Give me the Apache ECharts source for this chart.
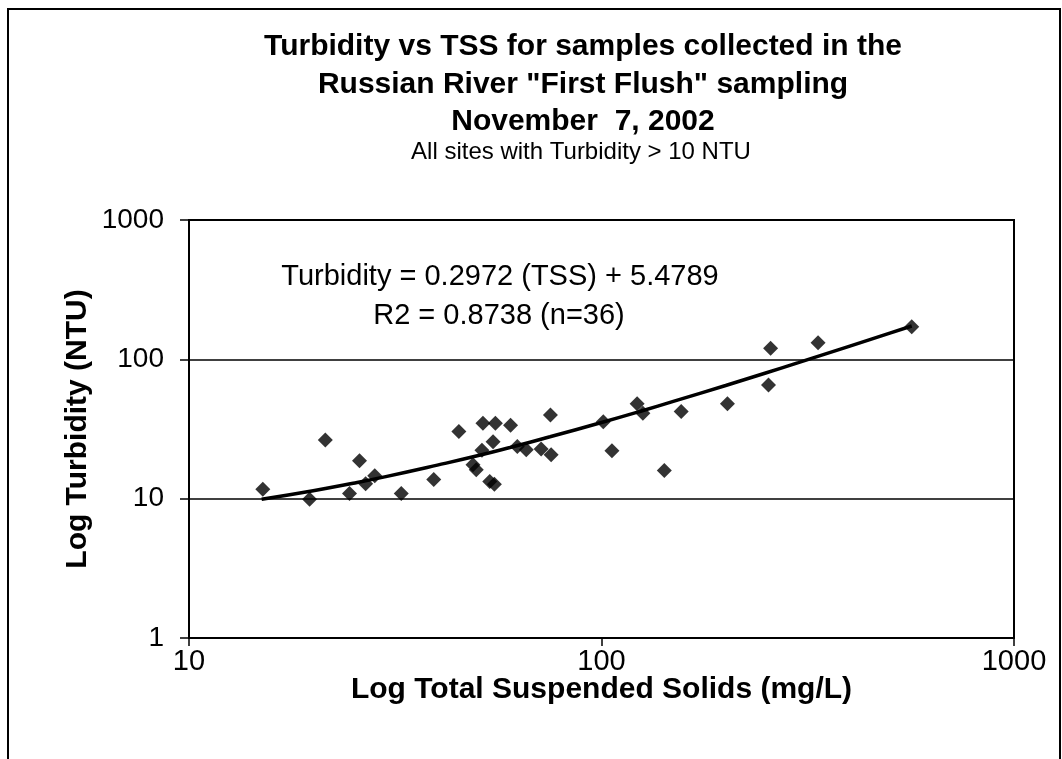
<!DOCTYPE html>
<html>
<head>
<meta charset="utf-8">
<script src="https://cdn.jsdelivr.net/npm/echarts@6/dist/echarts.min.js"></script>
<style>
html,body{margin:0;padding:0;background:#fff;}
#chart{width:1062px;height:759px;}
</style>
</head>
<body>
<div id="chart"></div>
<script>
const tss = [15.1, 19.6, 21.4, 24.5, 25.9, 26.8, 28.2, 32.7, 39.2, 45.1,
             51.6, 55.3, 60.2, 75.2, 54.6, 51.3, 48.8, 49.7, 53.6, 55.0,
             62.5, 65.7, 71.4, 75.5, 101, 106, 122, 126, 156, 142,
             202, 254, 257, 335, 565];
const turbidity = [11.7, 9.9, 26.4, 10.9, 18.7, 12.8, 14.6, 10.9, 13.7, 30.4,
                   34.8, 34.8, 33.7, 39.9, 25.6, 22.3, 17.5, 16.1, 13.3, 12.7,
                   23.7, 22.4, 22.7, 20.7, 35.7, 22.1, 47.9, 41.1, 42.3, 15.9,
                   47.9, 65.5, 120, 131.5, 171];
// Trend line as drawn on the chart
const trendTSS = [15, 20, 25, 30, 40, 50, 60, 75, 100, 125, 150, 200, 250, 300, 400, 500, 565];
const trendTurb = [9.9, 11.4, 12.9, 14.4, 17.4, 20.3, 23.3, 27.8, 35.2, 42.6, 50.1, 64.9, 79.8, 94.6, 124.4, 154.1, 173.4];
const xTicks = [10, 100, 1000];
const yTicks = [1, 10, 100, 1000];

const titleLines = ['Turbidity vs TSS for samples collected in the',
                    'Russian River "First Flush" sampling',
                    'November  7, 2002'];
const subtitle = 'All sites with Turbidity > 10 NTU';
const eqLines = ['Turbidity = 0.2972 (TSS) + 5.4789', 'R2 = 0.8738 (n=36)'];

const FONT = '"Liberation Sans", Arial, sans-serif';

const chart = echarts.init(document.getElementById('chart'), null, {renderer: 'canvas'});
const scatterData = tss.map((v, i) => [v, turbidity[i]]);
const trendData = trendTSS.map((v, i) => [v, trendTurb[i]]);

chart.setOption({
  animation: false,
  backgroundColor: '#fff',
  title: [{
    text: titleLines.join('\n'),
    left: 578, top: 23, textAlign: 'center',
    textStyle: {fontFamily: FONT, fontWeight: 'bold', fontSize: 30, lineHeight: 37.5, color: '#000'}
  }, {
    text: subtitle,
    left: 576, top: 135, textAlign: 'center',
    textStyle: {fontFamily: FONT, fontWeight: 'normal', fontSize: 24, color: '#000'}
  }],
  grid: {left: 189, right: 48, top: 220, bottom: 121, show: true, borderColor: '#000', borderWidth: 2, backgroundColor: 'transparent'},
  xAxis: {
    type: 'log', logBase: 10, min: 10, max: 1000,
    name: 'Log Total Suspended Solids (mg/L)', nameLocation: 'middle', nameGap: 37,
    nameMoveOverlap: false,
    nameTextStyle: {fontFamily: FONT, fontWeight: 'bold', fontSize: 30, color: '#000'},
    axisLine: {show: true, lineStyle: {color: '#000', width: 2}},
    axisTick: {show: true, inside: false, length: 8, lineStyle: {color: '#000', width: 1.5}},
    axisLabel: {fontFamily: FONT, fontSize: 29, color: '#000', margin: 9,
      formatter: v => (xTicks.indexOf(Math.round(v)) >= 0 ? String(Math.round(v)) : '')},
    splitLine: {show: false},
    minorTick: {show: false}
  },
  yAxis: {
    type: 'log', logBase: 10, min: 1, max: 1000,
    name: 'Log Turbidity (NTU)', nameLocation: 'middle', nameGap: 96, nameRotate: 90,
    nameMoveOverlap: false,
    nameTextStyle: {fontFamily: FONT, fontWeight: 'bold', fontSize: 30, color: '#000'},
    axisLine: {show: true, lineStyle: {color: '#000', width: 2}},
    axisTick: {show: true, inside: false, length: 9, lineStyle: {color: '#000', width: 1.5}},
    axisLabel: {fontFamily: FONT, fontSize: 28, color: '#000', margin: 25,
      formatter: v => (yTicks.indexOf(Math.round(v)) >= 0 ? String(Math.round(v)) : '')},
    splitLine: {show: true, lineStyle: {color: '#000', width: 1.5}}
  },
  series: [{
    type: 'line',
    data: trendData,
    smooth: true,
    showSymbol: false,
    lineStyle: {color: '#000', width: 3.5},
    z: 2
  }, {
    type: 'scatter',
    data: scatterData,
    symbol: 'diamond',
    symbolSize: 15,
    itemStyle: {color: '#000'},
    z: 3
  }],
  graphic: [{
    type: 'text', x: 500, y: 277,
    style: {text: eqLines[0], fontFamily: FONT, fontSize: 29, fill: '#000',
            align: 'center', verticalAlign: 'middle', textAlign: 'center', textVerticalAlign: 'middle'}
  }, {
    type: 'text', x: 499, y: 316,
    style: {text: eqLines[1], fontFamily: FONT, fontSize: 29, fill: '#000',
            align: 'center', verticalAlign: 'middle', textAlign: 'center', textVerticalAlign: 'middle'}
  }, {
    type: 'rect', shape: {x: 8, y: 9, width: 1052, height: 760},
    style: {fill: 'none', stroke: '#000', lineWidth: 2}, silent: true
  }]
});
</script>
</body>
</html>
